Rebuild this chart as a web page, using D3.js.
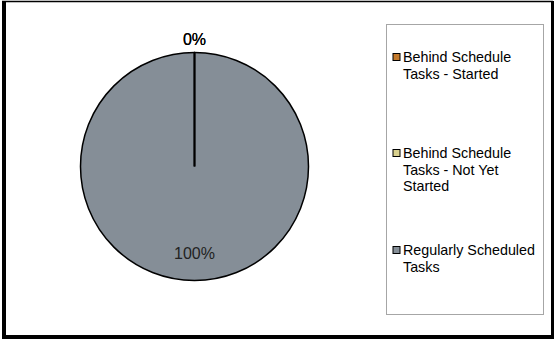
<!DOCTYPE html>
<html>
<head>
<meta charset="utf-8">
<script src="https://cdn.jsdelivr.net/npm/d3@7"></script>
<style>
    body { margin: 0; background: #fff; }
    svg { display: block; font-family: "Liberation Sans", Arial, sans-serif; }
</style>
</head>
<body>
<div id="chart"></div>
<script>
// chart data
var categories = ["Behind Schedule Tasks - Started", "Behind Schedule Tasks - Not Yet Started", "Regularly Scheduled Tasks"];
var legendLines = [["Behind Schedule", "Tasks - Started"], ["Behind Schedule", "Tasks - Not Yet", "Started"], ["Regularly Scheduled", "Tasks"]];
var values = [0, 0, 100];
var colors = ["#c47a2c", "#d9d18e", "#858e97"];

var width = 554, height = 341;

var svg = d3.select("#chart")
    .append("svg")
    .attr("width", width)
    .attr("height", height);

// outer frame (thin top, heavier left/bottom like the original)
svg.append("rect")
    .attr("x", 0).attr("y", 0)
    .attr("width", width).attr("height", height)
    .attr("fill", "#fff");
svg.append("line").attr("x1", 2).attr("x2", 553).attr("y1", 1.5).attr("y2", 1.5)
    .attr("stroke", "#000").attr("stroke-width", 1.5);
svg.append("line").attr("x1", 4).attr("x2", 4).attr("y1", 1).attr("y2", 339)
    .attr("stroke", "#000").attr("stroke-width", 4);
svg.append("line").attr("x1", 552.5).attr("x2", 552.5).attr("y1", 1).attr("y2", 339)
    .attr("stroke", "#000").attr("stroke-width", 3);
svg.append("line").attr("x1", 2).attr("x2", 554).attr("y1", 337).attr("y2", 337)
    .attr("stroke", "#000").attr("stroke-width", 4);

// pie
var cx = 194.5, cy = 166.5, radius = 114;

var pie = d3.pie()
    .sort(null)
    .value(function (d) { return d; });

var arc = d3.arc()
    .innerRadius(0)
    .outerRadius(radius);

var arcs = pie(values);
var total = d3.sum(values);

var g = svg.append("g")
    .attr("transform", "translate(" + cx + "," + cy + ")");

g.selectAll("path.slice")
    .data(arcs)
    .enter()
    .append("path")
    .attr("class", "slice")
    .attr("d", arc)
    .attr("fill", function (d, i) { return colors[i]; })
    .attr("stroke", "#000")
    .attr("stroke-width", 1.5)
    .attr("stroke-linejoin", "round");

// slice borders for the empty slices (d3.arc draws nothing for them)
var radial = d3.lineRadial()
    .angle(function (p) { return p[0]; })
    .radius(function (p) { return p[1]; });

g.selectAll("path.edge")
    .data(arcs.filter(function (d) { return d.endAngle - d.startAngle === 0; }))
    .enter()
    .append("path")
    .attr("class", "edge")
    .attr("d", function (d) { return radial([[d.startAngle, 0], [d.startAngle, radius]]); })
    .attr("stroke", "#000")
    .attr("stroke-width", 1.8)
    .attr("fill", "none");

// data labels: zero slices outside, others inside
g.selectAll("text.label")
    .data(arcs)
    .enter()
    .append("text")
    .attr("class", "label")
    .attr("text-anchor", "middle")
    .attr("dominant-baseline", "central")
    .attr("font-size", 16)
    .attr("fill", function (d) { return d.data === 0 ? "#000" : "#222"; })
    .attr("x", function (d) {
        var a = (d.startAngle + d.endAngle) / 2;
        var r = d.data === 0 ? radius + 13 : radius * 0.76;
        return Math.sin(a) * r;
    })
    .attr("y", function (d) {
        var a = (d.startAngle + d.endAngle) / 2;
        var r = d.data === 0 ? radius + 13 : radius * 0.76;
        return -Math.cos(a) * r;
    })
    .text(function (d) { return Math.round(d.data / total * 100) + "%"; });

// legend
var legend = svg.append("g").attr("class", "legend");

legend.append("rect")
    .attr("x", 386.5).attr("y", 24.5)
    .attr("width", 157).attr("height", 290)
    .attr("fill", "#fff")
    .attr("stroke", "#a6a6a6")
    .attr("stroke-width", 1);

var itemY = [57, 153, 250];
var lineHeight = 16.5;

var items = legend.selectAll("g.item")
    .data(categories)
    .enter()
    .append("g")
    .attr("class", "item")
    .attr("transform", function (d, i) { return "translate(392," + itemY[i] + ")"; });

items.append("rect")
    .attr("x", 1).attr("y", -3.5)
    .attr("width", 7).attr("height", 7)
    .attr("fill", function (d, i) { return colors[i]; })
    .attr("stroke", "#000")
    .attr("stroke-width", 1);

items.each(function (d, i) {
    var t = d3.select(this).append("text")
        .attr("x", 11)
        .attr("font-size", 14.3)
        .attr("fill", "#000");
    legendLines[i].forEach(function (line, j) {
        t.append("tspan")
            .attr("x", 11)
            .attr("y", j * lineHeight)
            .attr("dy", "0.35em")
            .text(line);
    });
});
</script>
</body>
</html>
